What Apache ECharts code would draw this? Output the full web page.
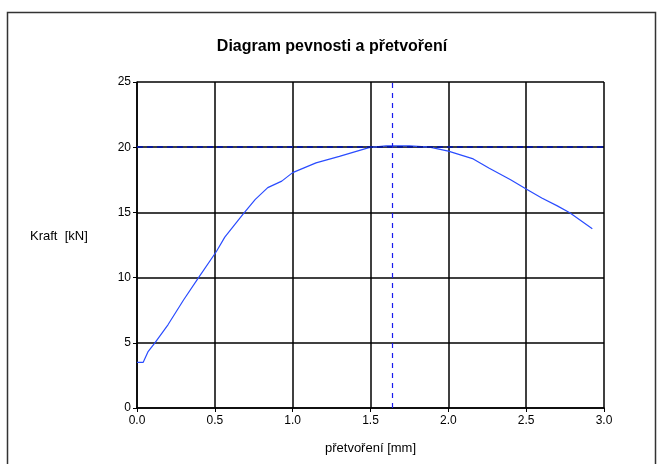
<!DOCTYPE html>
<html><head><meta charset="utf-8">
<script src="https://cdn.jsdelivr.net/npm/echarts@6/dist/echarts.min.js"></script>
<style>html,body{margin:0;padding:0;background:#fff}#c{width:657px;height:464px}</style>
</head><body><div id="c"></div>
<script>
const strain = [0.0, 0.04, 0.07, 0.115, 0.2, 0.3, 0.39, 0.51, 0.564, 0.68, 0.76, 0.84, 0.93, 1.0, 1.15, 1.3, 1.49, 1.6, 1.75, 1.88, 2.0, 2.16, 2.26, 2.4, 2.5, 2.6, 2.7, 2.78, 2.925];
const force  = [3.5, 3.5, 4.3, 5.0, 6.4, 8.3, 9.9, 12.0, 13.1, 14.85, 16.0, 16.9, 17.4, 18.05, 18.8, 19.3, 19.97, 20.1, 20.1, 20.0, 19.7, 19.1, 18.4, 17.5, 16.8, 16.1, 15.5, 14.97, 13.75];
const maxForce = 20.05;
const strainAtMax = 1.64;
const xTicks = ['0.0','0.5','1.0','1.5','2.0','2.5','3.0'];
const yTicks = [0,5,10,15,20,25];

const chart = echarts.init(document.getElementById('c'), null, {renderer:'canvas'});
const font = 'Liberation Sans, Arial, sans-serif';
chart.setOption({
  animation:false,
  backgroundColor:'#fff',
  title:{text:'Diagram pevnosti a přetvoření', left:327, textAlign:'center', top:34,
    textStyle:{fontFamily:font, fontSize:16, fontWeight:'bold', color:'#000'}},
  graphic:[{type:'polyline', silent:true, shape:{points:[[7.5,470],[7.5,12.5],[655.5,12.5],[655.5,470]]},
    style:{stroke:'#333', lineWidth:1.5, fill:null}},
    {type:'text', left:30, top:230, style:{text:'Kraft  [kN]', fontFamily:font, fontSize:13, fill:'#000'}}],
  grid:{left:137, right:53, top:82, bottom:56, show:false},
  xAxis:{type:'value', min:0, max:3, interval:0.5,
    name:'přetvoření [mm]', nameLocation:'middle', nameGap:34,
    nameTextStyle:{fontFamily:font, fontSize:13, color:'#000'},
    axisLine:{show:true, lineStyle:{color:'#000', width:1.5}},
    axisTick:{show:true, length:4, lineStyle:{color:'#000'}},
    axisLabel:{fontFamily:font, fontSize:12, color:'#000', margin:7,
      formatter:(v)=>{const s=v.toFixed(1); return xTicks.includes(s)?s:'';}},
    splitLine:{show:true, lineStyle:{color:'#000', width:1.5}}},
  yAxis:{type:'value', min:0, max:25, interval:5,
    axisLine:{show:true, lineStyle:{color:'#000', width:1.5}},
    axisTick:{show:true, length:4, lineStyle:{color:'#000'}},
    axisLabel:{fontFamily:font, fontSize:12, color:'#000', margin:6,
      formatter:(v)=>yTicks.includes(v)?String(v):''},
    splitLine:{show:true, lineStyle:{color:'#000', width:1.5}}},
  series:[
    {type:'line', data:strain.map((x,i)=>[x,force[i]]), showSymbol:false, symbol:'none',
      lineStyle:{color:'#2a4cff', width:1.2},
      markLine:{silent:true, symbol:'none', label:{show:false},
        data:[
          {yAxis:maxForce, lineStyle:{color:'#0a1a99', type:[6,4], width:2}},
          {xAxis:strainAtMax, lineStyle:{color:'#1a1aee', type:[5,5], width:1.2}}
        ]}}
  ]
});
</script></body></html>
